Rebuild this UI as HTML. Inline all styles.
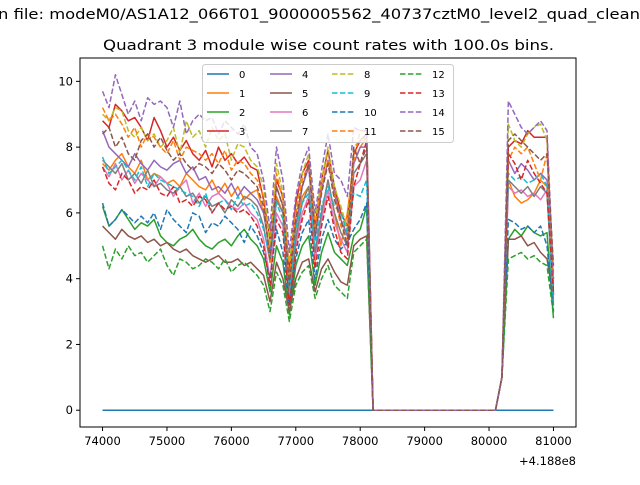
<!DOCTYPE html>
<html><head><meta charset="utf-8"><style>
body{margin:0;background:#fff;}
svg{font-family:"DejaVu Sans","Liberation Sans",sans-serif;}
</style></head><body>
<svg id="chart" width="640" height="480" viewBox="0 0 640 480">
<text x="-2" y="19" font-size="14" textLength="642" lengthAdjust="spacingAndGlyphs">n file: modeM0/AS1A12_066T01_9000005562_40737cztM0_level2_quad_clean</text>
<text x="103" y="50" font-size="14" textLength="451" lengthAdjust="spacingAndGlyphs">Quadrant 3 module wise count rates with 100.0s bins.</text>
<g id="lines"></g>
<rect x="80" y="58" width="496" height="369" fill="none" stroke="#000" stroke-width="1"/>
<g id="axes"></g>
<text x="576" y="465" font-size="11.5" text-anchor="end">+4.188e8</text>
<g id="legend"></g>
</svg>
<script>
const xStart = 74000, xStep = 100;
const xTicks = [74000,75000,76000,77000,78000,79000,80000,81000];
const yTicks = [0,2,4,6,8,10];
const names = ["0","1","2","3","4","5","6","7","8","9","10","11","12","13","14","15"];
const s0 = [0,0,0,0,0,0,0,0,0,0,0,0,0,0,0,0,0,0,0,0,0,0,0,0,0,0,0,0,0,0,0,0,0,0,0,0,0,0,0,0,0,0,0,0,0,0,0,0,0,0,0,0,0,0,0,0,0,0,0,0,0,0,0,0,0,0,0,0,0,0,0];
const s1 = [7.5,7.3,7.6,7.8,7.4,7.2,7.6,7.0,7.2,7.1,6.9,7.0,6.8,7.2,7.0,6.8,6.7,7.0,6.6,6.9,6.5,6.8,6.4,6.6,6.7,6.0,5.5,6.5,6.0,3.5,5.5,6.5,6.8,4.5,6.0,7.0,6.0,5.0,6.0,7.5,8.0,8.3,0,0,0,0,0,0,0,0,0,0,0,0,0,0,0,0,0,0,0,0,1.0,7.0,6.5,6.3,6.4,6.6,7.0,6.8,3.5];
const s2 = [6.2,5.6,5.8,6.1,5.8,5.5,5.7,5.6,5.8,5.3,5.1,5.0,5.2,5.3,5.5,5.2,5.0,4.9,5.1,5.2,5.0,5.3,5.5,5.2,5.0,4.6,3.6,5.0,4.5,2.9,4.4,5.0,5.3,3.8,4.8,5.4,4.8,4.6,4.4,5.3,5.5,6.2,0,0,0,0,0,0,0,0,0,0,0,0,0,0,0,0,0,0,0,0,1.0,5.2,5.5,5.3,5.6,5.4,5.3,5.4,2.8];
const s3 = [8.8,8.6,9.3,9.1,8.8,8.9,8.6,8.2,8.9,8.5,8.0,8.3,7.9,8.2,7.8,7.6,7.9,7.4,8.0,7.6,7.8,7.5,7.7,7.4,7.3,6.4,5.2,7.0,6.5,4.2,6.3,7.2,7.6,5.6,7.0,7.9,6.8,6.0,5.6,7.8,8.2,8.4,0,0,0,0,0,0,0,0,0,0,0,0,0,0,0,0,0,0,0,0,1.0,8.0,8.2,8.1,8.5,8.3,8.3,8.3,3.5];
const s4 = [8.5,8.0,7.8,7.6,7.4,7.8,7.5,7.3,7.6,7.4,7.3,7.5,7.6,7.2,7.4,7.0,7.1,6.7,6.8,6.6,6.9,6.5,6.8,6.6,6.4,6.0,4.8,6.8,6.2,3.8,5.6,6.8,7.4,5.2,6.7,7.6,6.6,5.8,5.3,7.5,8.0,8.0,0,0,0,0,0,0,0,0,0,0,0,0,0,0,0,0,0,0,0,0,1.0,7.6,7.2,7.5,7.3,7.0,7.2,7.0,3.8];
const s5 = [5.6,5.4,5.2,5.5,5.3,5.2,5.3,5.1,5.2,5.0,5.1,4.9,4.8,4.9,4.7,4.6,4.5,4.6,4.7,4.5,4.5,4.6,4.4,4.5,4.3,4.1,3.3,4.5,4.0,3.0,4.0,4.5,4.6,3.6,4.3,4.6,4.2,3.9,3.8,5.0,5.2,5.3,0,0,0,0,0,0,0,0,0,0,0,0,0,0,0,0,0,0,0,0,1.0,5.2,5.2,5.3,5.0,5.1,4.8,4.6,3.4];
const s6 = [7.4,7.1,7.5,7.0,7.3,6.9,7.2,7.0,6.8,7.1,6.9,6.5,6.8,7.0,6.3,6.6,6.2,6.5,6.6,6.4,6.2,6.1,6.3,6.0,5.8,5.2,4.0,6.0,5.6,3.3,5.0,6.0,6.5,4.6,5.8,6.7,5.7,5.2,4.8,6.8,7.0,7.6,0,0,0,0,0,0,0,0,0,0,0,0,0,0,0,0,0,0,0,0,1.0,6.8,6.6,6.7,6.5,6.6,6.4,6.7,3.3];
const s7 = [7.6,7.4,7.2,7.5,7.0,7.2,6.9,7.3,6.8,6.9,6.7,6.6,6.8,6.5,6.6,6.3,6.5,6.2,6.3,6.0,6.4,6.2,6.5,6.4,6.2,5.6,4.5,6.4,6.0,3.2,5.2,6.3,6.8,4.8,6.0,7.0,6.0,5.4,5.0,7.2,7.5,7.8,0,0,0,0,0,0,0,0,0,0,0,0,0,0,0,0,0,0,0,0,1.0,7.0,6.8,6.6,6.8,6.5,6.8,6.6,3.2];
const s8 = [9.0,8.8,9.2,9.1,8.5,8.3,8.6,8.2,8.4,8.0,8.2,8.6,7.8,8.8,8.3,8.5,8.0,8.6,8.2,8.4,7.6,8.1,8.0,7.6,7.4,6.8,5.0,7.5,6.6,4.5,6.0,7.2,7.8,5.8,7.0,8.0,6.8,6.2,5.5,8.0,8.2,8.3,0,0,0,0,0,0,0,0,0,0,0,0,0,0,0,0,0,0,0,0,1.0,8.7,8.2,8.0,8.4,8.6,8.7,8.2,4.2];
const s9 = [7.7,7.2,7.4,7.6,7.3,7.0,7.4,6.8,7.2,7.0,6.9,6.8,6.7,6.6,6.5,6.2,6.6,6.0,6.3,6.4,6.1,6.5,6.2,6.3,6.0,5.5,4.6,6.3,5.8,3.6,5.5,6.3,6.6,5.0,6.2,6.8,6.2,6.0,5.4,6.6,6.5,7.0,0,0,0,0,0,0,0,0,0,0,0,0,0,0,0,0,0,0,0,0,1.0,7.2,7.0,7.1,6.9,7.0,7.2,6.8,3.0];
const s10 = [6.3,5.6,5.8,6.1,5.9,5.7,5.9,5.7,6.0,5.5,6.1,5.8,5.6,5.4,6.0,5.9,5.4,5.7,5.6,5.9,5.7,5.5,5.1,5.6,5.3,4.8,4.0,5.5,4.8,3.2,4.6,5.4,5.8,4.0,5.2,5.8,5.2,4.9,5.1,5.5,5.8,6.3,0,0,0,0,0,0,0,0,0,0,0,0,0,0,0,0,0,0,0,0,1.0,5.8,5.7,5.5,5.6,5.4,5.6,5.0,3.0];
const s11 = [9.2,8.8,9.0,8.7,8.3,8.6,8.0,8.4,8.3,8.0,7.8,8.2,7.6,8.0,7.9,7.8,7.6,7.8,7.5,7.9,7.3,7.6,7.5,7.2,7.0,6.5,4.5,7.2,6.4,4.0,6.0,7.0,7.5,5.5,6.8,7.6,6.5,5.6,5.2,7.6,8.5,8.5,0,0,0,0,0,0,0,0,0,0,0,0,0,0,0,0,0,0,0,0,1.0,7.6,8.0,7.8,8.0,7.5,7.0,7.8,4.0];
const s12 = [5.0,4.3,4.9,4.6,5.0,4.7,4.8,4.5,4.7,4.9,4.4,4.1,4.6,4.5,4.3,4.4,4.6,4.5,4.3,4.6,4.2,4.4,4.5,4.3,4.1,3.8,3.0,4.2,3.8,2.7,3.8,4.2,4.4,3.4,4.0,4.4,3.8,3.6,3.4,4.8,5.0,5.2,0,0,0,0,0,0,0,0,0,0,0,0,0,0,0,0,0,0,0,0,1.0,4.6,4.7,4.8,4.6,4.7,4.5,4.4,2.9];
const s13 = [7.4,6.9,6.7,7.2,7.0,6.6,6.8,6.7,7.0,6.6,6.5,6.8,6.3,6.4,6.2,6.5,6.4,6.0,6.3,6.1,6.2,6.0,6.1,5.9,5.6,5.0,3.8,5.8,5.4,3.2,4.8,5.8,6.4,4.3,5.6,6.5,5.5,4.8,4.6,6.8,7.5,8.2,0,0,0,0,0,0,0,0,0,0,0,0,0,0,0,0,0,0,0,0,1.0,7.8,7.5,7.0,7.6,7.2,6.9,6.6,3.6];
const s14 = [9.7,9.2,10.2,9.6,9.0,9.4,8.8,9.5,9.3,9.4,9.2,8.6,9.4,8.4,8.8,9.0,8.8,8.9,8.4,8.8,8.6,8.4,8.7,8.0,7.8,7.0,5.5,8.0,7.0,4.8,6.5,7.5,8.0,6.0,7.3,8.4,7.2,7.0,6.5,8.6,8.5,8.5,0,0,0,0,0,0,0,0,0,0,0,0,0,0,0,0,0,0,0,0,1.0,9.4,9.0,8.6,8.4,8.6,8.8,8.5,4.0];
const s15 = [8.4,8.6,8.0,8.3,7.8,7.6,8.2,8.4,8.0,8.3,7.9,7.6,7.8,7.5,7.3,7.5,7.4,7.2,7.5,7.3,7.0,7.3,7.2,7.0,6.8,6.2,4.6,6.8,6.2,3.8,5.8,6.8,7.5,5.3,6.6,7.5,6.4,5.8,5.0,8.0,7.5,8.0,0,0,0,0,0,0,0,0,0,0,0,0,0,0,0,0,0,0,0,0,1.0,8.2,8.4,8.2,8.0,7.8,7.6,7.8,4.4];
const series = [s0,s1,s2,s3,s4,s5,s6,s7,s8,s9,s10,s11,s12,s13,s14,s15];
const colors = ["#1f77b4","#ff7f0e","#2ca02c","#d62728","#9467bd","#8c564b","#e377c2","#7f7f7f","#bcbd22","#17becf"];
const NS="http://www.w3.org/2000/svg";
const X0=80,X1=576,Y0=58,Y1=427;
const xmin=73650,xmax=81350,ymin=-0.51,ymax=10.71;
function xs(v){return X0+(v-xmin)/(xmax-xmin)*(X1-X0);}
function ys(v){return Y1-(v-ymin)/(ymax-ymin)*(Y1-Y0);}
function mk(tag,attrs,parent){const e=document.createElementNS(NS,tag);for(const k in attrs)e.setAttribute(k,attrs[k]);parent.appendChild(e);return e;}
const gl=document.getElementById('lines');
series.forEach((arr,si)=>{
  const d=arr.map((v,i)=>(i?'L':'M')+xs(xStart+i*xStep).toFixed(2)+','+ys(v).toFixed(2)).join(' ');
  const p=mk('path',{d:d,fill:'none',stroke:colors[si%10],'stroke-width':1.5,'stroke-linejoin':'round'},gl);
  if(si>=8) p.setAttribute('stroke-dasharray','5.5,2.4');
  
  
});
const ga=document.getElementById('axes');
xTicks.forEach(t=>{
  const x=xs(t);
  const l=mk('line',{x1:x,x2:x,y1:Y1,y2:Y1+4,stroke:'#000'},ga);
  
  
  const tx=mk('text',{x:x,y:Y1+18,'font-size':11.5,'text-anchor':'middle'},ga);
  tx.textContent=t;
  
  
});
yTicks.forEach(t=>{
  const y=ys(t);
  const l=mk('line',{x1:X0-4,x2:X0,y1:y,y2:y,stroke:'#000'},ga);
  
  
  const tx=mk('text',{x:X0-7,y:y+4,'font-size':11.5,'text-anchor':'end'},ga);
  tx.textContent=t;
  
  
});
const lg=document.getElementById('legend');
const box=mk('rect',{x:202.5,y:64.5,width:251,height:78,rx:3,fill:'#fff','fill-opacity':0.8,stroke:'#ccc'},lg);


names.forEach((n,i)=>{
  const col=Math.floor(i/4),row=i%4;
  const lx=[207,270,332,400][col],ly=74+row*19;
  const l=mk('line',{x1:lx,x2:lx+22,y1:ly,y2:ly,stroke:colors[i%10],'stroke-width':1.5},lg);
  if(i>=8) l.setAttribute('stroke-dasharray','5.5,2.4');
  
  
  const t=mk('text',{x:lx+32,y:ly+4,'font-size':10},lg);
  t.textContent=n;
  
  
});
</script>
</body></html>
